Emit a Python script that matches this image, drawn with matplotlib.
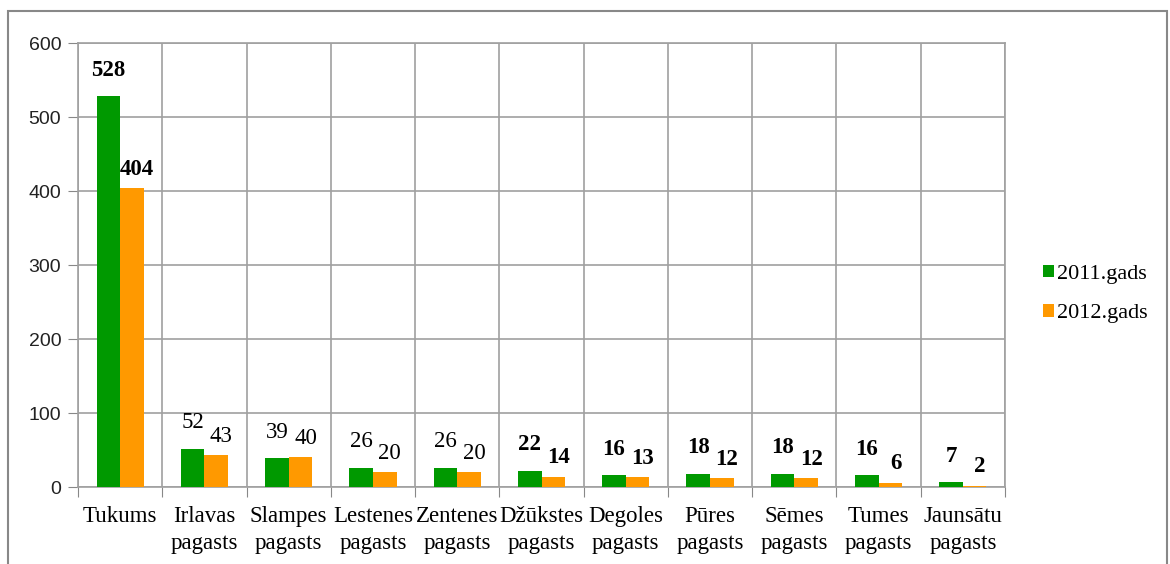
import numpy as np
import matplotlib.pyplot as plt
from matplotlib.patches import Rectangle

categories = ["Tukums", "Irlavas\npagasts", "Slampes\npagasts", "Lestenes\npagasts",
              "Zentenes\npagasts", "Džūkstes\npagasts", "Degoles\npagasts", "Pūres\npagasts",
              "Sēmes\npagasts", "Tumes\npagasts", "Jaunsātu\npagasts"]
y2011 = [528, 52, 39, 26, 26, 22, 16, 18, 18, 16, 7]
y2012 = [404, 43, 40, 20, 20, 14, 13, 12, 12, 6, 2]
series_names = ["2011.gads", "2012.gads"]

green = "#009900"
orange = "#ff9900"
serif = "Liberation Serif"

fig = plt.figure(figsize=(11.7, 5.64), dpi=100)
# outer chart frame
fig.patches.append(Rectangle((8 / 1170, -0.01), 1159 / 1170, 1 - 11 / 564 + 0.01,
                             transform=fig.transFigure, fill=False,
                             edgecolor="#888888", linewidth=1.5))
ax = fig.add_axes([78 / 1170, 1 - 487 / 564, (1005 - 78) / 1170, (487 - 43) / 564])

x = np.arange(len(categories))
w = 0.28
ax.bar(x - w / 2, y2011, w, color=green, label=series_names[0], zorder=3)
ax.bar(x + w / 2, y2012, w, color=orange, label=series_names[1], zorder=3)

bold_idx = {0, 5, 6, 7, 8, 9, 10}
for i in range(len(categories)):
    wt = "bold" if i in bold_idx else "normal"
    ax.annotate(str(y2011[i]), (x[i] - w / 2, y2011[i]), xytext=(0, 11),
                textcoords="offset points", ha="center", va="bottom",
                fontsize=16.5, fontweight=wt, family=serif)
    ax.annotate(str(y2012[i]), (x[i] + w / 2 + 0.06, y2012[i]), xytext=(0, 6),
                textcoords="offset points", ha="center", va="bottom",
                fontsize=16.5, fontweight=wt, family=serif)

ax.set_xlim(-0.5, len(categories) - 0.5)
ax.set_ylim(0, 600)
ax.set_yticks(range(0, 601, 100))
ax.tick_params(axis="y", labelsize=14, length=7, color="#888888", pad=5)
for lbl in ax.get_yticklabels():
    lbl.set_family("Liberation Sans")
    lbl.set_color("#222222")

# boundaries as major ticks (gridlines), categories as minor labels
ax.set_xticks(np.arange(-0.5, len(categories), 1.0))
ax.set_xticklabels([])
ax.set_xticks(x, minor=True)
ax.set_xticklabels(categories, minor=True, family=serif, fontsize=16.5, linespacing=1.35)
ax.tick_params(axis="x", which="major", length=7, color="#888888")
ax.tick_params(axis="x", which="minor", length=0, pad=14)

ax.grid(True, which="major", color="#a0a0a0", linewidth=1.2, zorder=0)
ax.set_axisbelow(True)
for s in ax.spines.values():
    s.set_color("#a0a0a0")
    s.set_linewidth(1.2)

ax.legend(loc="center left", bbox_to_anchor=(1043 / 1170, 1 - 294 / 564),
          bbox_transform=fig.transFigure, frameon=False,
          prop={"family": serif, "size": 16}, handlelength=0.5, handleheight=0.5,
          handletextpad=0.15, labelspacing=0.9, borderpad=0, borderaxespad=0)

fig.savefig("out.png", dpi=100)
